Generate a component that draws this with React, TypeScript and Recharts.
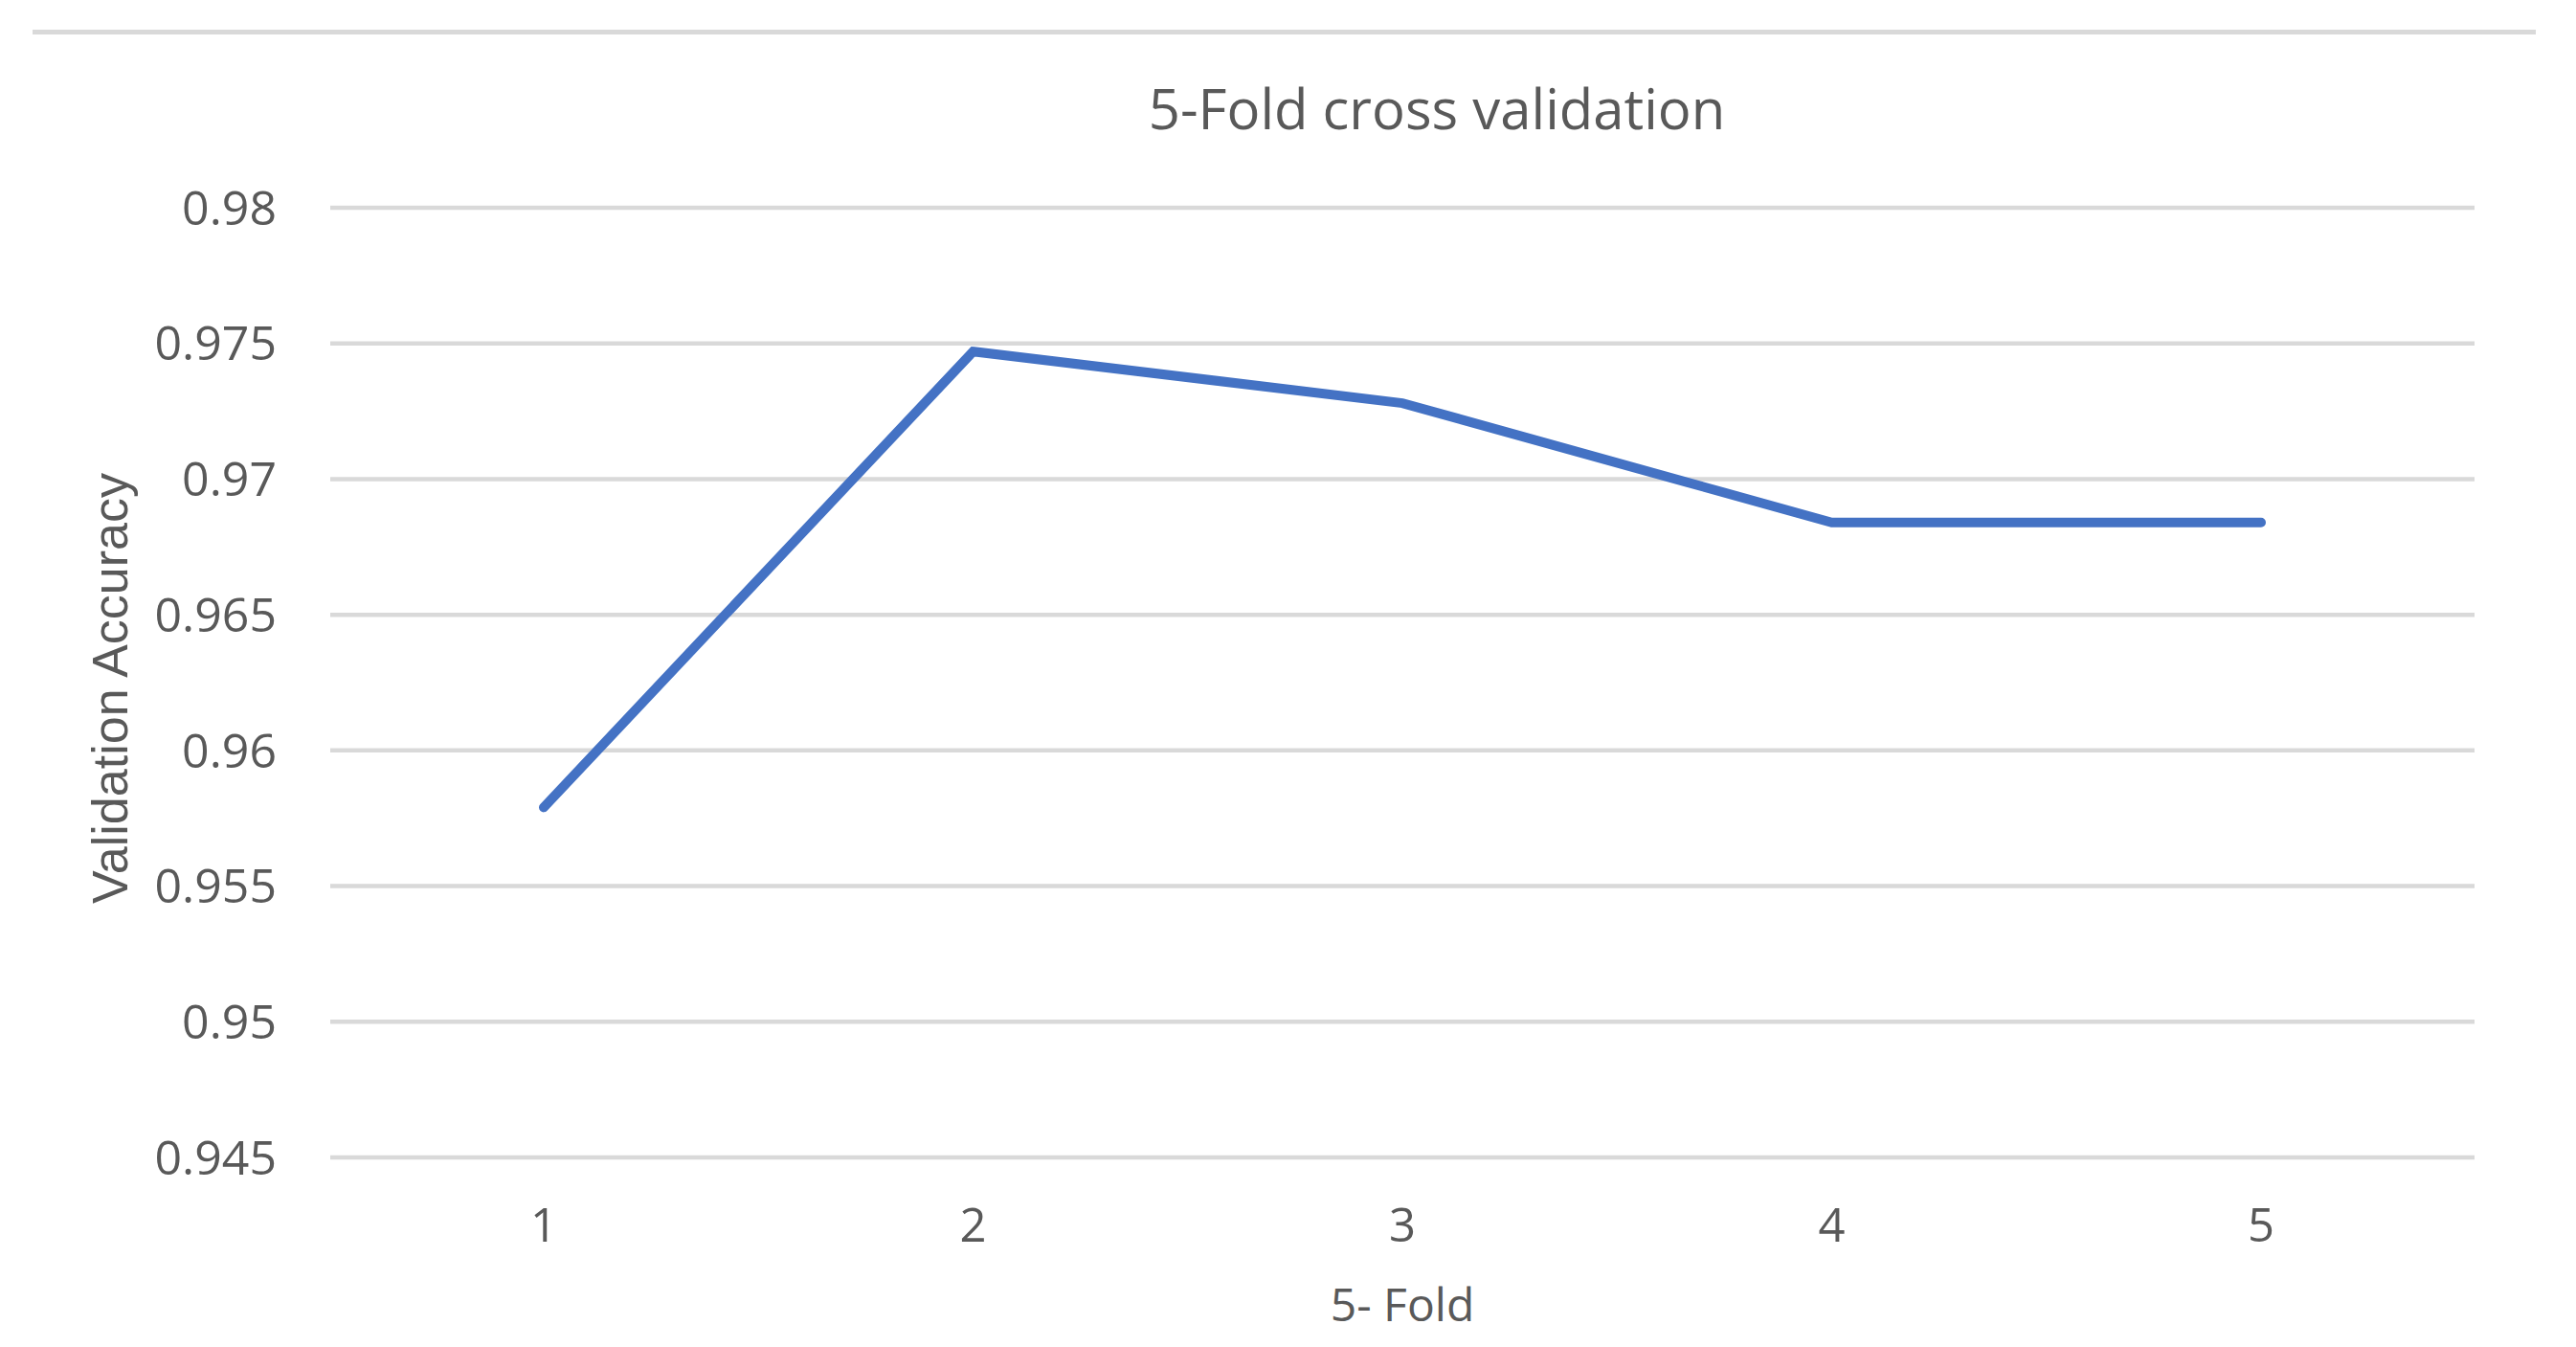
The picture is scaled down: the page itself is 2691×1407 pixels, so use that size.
import { LineChart, Line, XAxis, YAxis, CartesianGrid } from "recharts";

const folds = ["1", "2", "3", "4", "5"];
const accuracy = [0.9579, 0.9747, 0.9728, 0.9684, 0.9684];
const yTicks = [0.945, 0.95, 0.955, 0.96, 0.965, 0.97, 0.975, 0.98];

const data = folds.map((fold, i) => ({ fold, acc: accuracy[i] }));

const TEXT = "#595959";
const GRID = "#D9D9D9";
const FONT = "'Open Sans', sans-serif";

export default function App() {
  return (
    <div
      style={{
        position: "absolute",
        left: 0,
        top: 0,
        width: 2691,
        height: 1407,
        background: "#fff",
        fontFamily: FONT,
      }}
    >
      {/* thin rule along the top */}
      <div
        style={{
          position: "absolute",
          left: 34,
          top: 31,
          width: 2615,
          height: 5,
          background: GRID,
        }}
      />

      <LineChart
        width={2691}
        height={1407}
        data={data}
        margin={{ top: 217, right: 106, bottom: 48, left: 95 }}
      >
        <CartesianGrid vertical={false} stroke={GRID} strokeWidth={4.5} />
        <XAxis
          dataKey="fold"
          height={150}
          padding={{ left: 223, right: 223 }}
          axisLine={false}
          tickLine={false}
          tickSize={0}
          tickMargin={53}
          tick={{ fill: TEXT, fontSize: 49, fontFamily: FONT }}
        />
        <YAxis
          width={250}
          domain={[0.945, 0.98]}
          ticks={yTicks}
          axisLine={false}
          tickLine={false}
          tickSize={0}
          tickMargin={56}
          tick={{ fill: TEXT, fontSize: 50, fontFamily: FONT }}
        />
        <Line
          type="linear"
          dataKey="acc"
          stroke="#4472C4"
          strokeWidth={10}
          strokeLinecap="round"
          dot={false}
          activeDot={false}
          isAnimationActive={false}
        />
      </LineChart>

      <div
        style={{
          position: "absolute",
          left: 1501,
          top: 113,
          transform: "translate(-50%, -50%)",
          fontSize: 58,
          lineHeight: 1,
          color: TEXT,
          whiteSpace: "nowrap",
        }}
      >
        5-Fold cross validation
      </div>

      <div
        style={{
          position: "absolute",
          left: 1465,
          top: 1362,
          transform: "translate(-50%, -50%)",
          fontSize: 48,
          lineHeight: 1,
          color: TEXT,
          whiteSpace: "nowrap",
        }}
      >
        5- Fold
      </div>

      <div
        style={{
          position: "absolute",
          left: 115,
          top: 719,
          transform: "translate(-50%, -50%) rotate(-90deg)",
          fontSize: 52,
          lineHeight: 1,
          color: TEXT,
          fontFamily: "'Liberation Sans', Arial, sans-serif",
          whiteSpace: "nowrap",
        }}
      >
        Validation Accuracy
      </div>
    </div>
  );
}
